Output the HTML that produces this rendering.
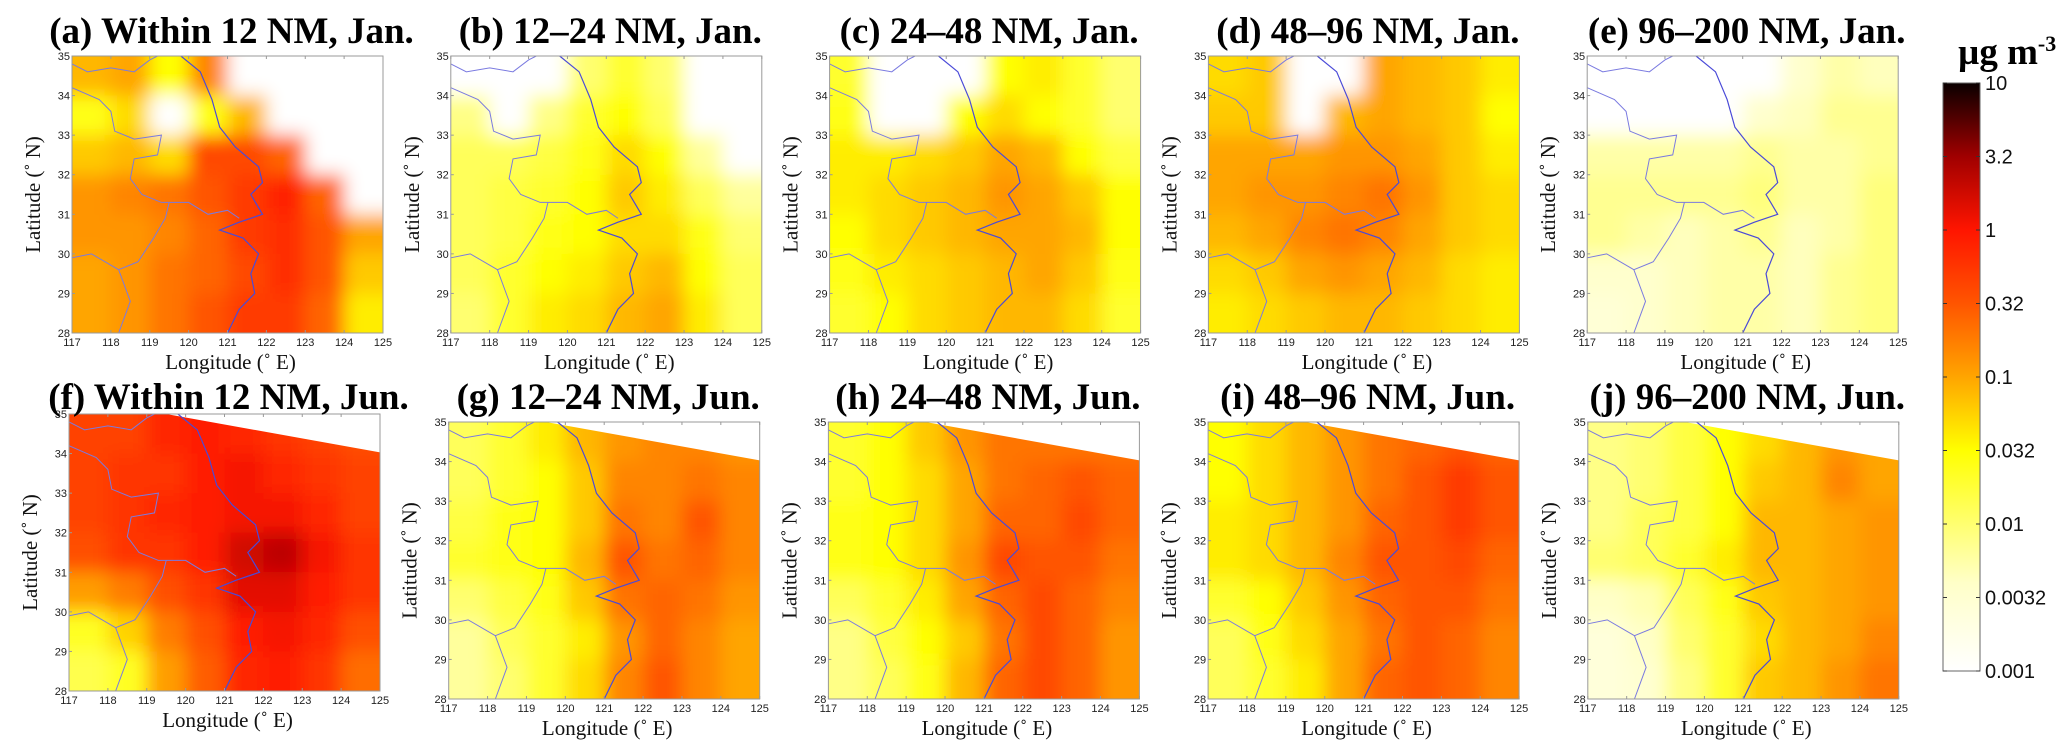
<!DOCTYPE html>
<html><head><meta charset="utf-8"><style>
html,body{margin:0;padding:0;background:#fff;}
svg{display:block;}
.tick{font-family:"Liberation Sans",sans-serif;font-size:11px;fill:#222;}
.axl{font-family:"Liberation Serif",serif;font-size:21px;fill:#111;}
.ttl{font-family:"Liberation Serif",serif;font-size:37px;font-weight:bold;fill:#000;}
.cbl{font-family:"Liberation Sans",sans-serif;font-size:20px;fill:#111;}
</style></head><body>
<svg id="fig" width="2067" height="756" viewBox="0 0 2067 756" xmlns="http://www.w3.org/2000/svg">
<defs>
<filter id="blur" x="-10%" y="-10%" width="120%" height="120%"><feGaussianBlur stdDeviation="9"/></filter>
<linearGradient id="cbgrad" x1="0" y1="1" x2="0" y2="0">
<stop offset="0" stop-color="#ffffff"/><stop offset="0.15" stop-color="#ffffc8"/><stop offset="0.25" stop-color="#ffff70"/>
<stop offset="0.375" stop-color="#ffff00"/><stop offset="0.5" stop-color="#ffa500"/><stop offset="0.625" stop-color="#ff5500"/>
<stop offset="0.75" stop-color="#ff1500"/><stop offset="0.875" stop-color="#a00000"/><stop offset="1" stop-color="#0a0000"/>
</linearGradient>
</defs>
</svg>
<script>
// Panel titles
const titles = ["(a) Within 12 NM, Jan.","(b) 12\u201324 NM, Jan.","(c) 24\u201348 NM, Jan.","(d) 48\u201396 NM, Jan.","(e) 96\u2013200 NM, Jan.",
"(f) Within 12 NM, Jun.","(g) 12\u201324 NM, Jun.","(h) 24\u201348 NM, Jun.","(i) 48\u201396 NM, Jun.","(j) 96\u2013200 NM, Jun."];
// Grid categories
const lonCenters = [117.5,118.5,119.5,120.5,121.5,122.5,123.5,124.5];
const latCenters = [34.5,33.5,32.5,31.5,30.5,29.5,28.5];
const lonTicks = [117,118,119,120,121,122,123,124,125];
const latTicks = [28,29,30,31,32,33,34,35];
const cbTicks = ["0.001","0.0032","0.01","0.032","0.1","0.32","1","3.2","10"];
// log10 concentration (µg m-3) per panel, rows north->south; null = no data
const logA = [[-1.1,-1.0,-1.5,-0.8,null,null,null,null],[-1.6,-1.3,null,-1.6,-1.1,null,null,null],[-1.2,-1.1,-1.3,-0.4,-0.4,-0.6,null,null],[-0.9,-0.8,-0.7,-0.5,-0.3,-0.1,-0.6,null],[-0.9,-0.9,-0.8,-0.6,-0.3,-0.2,-0.5,-1.0],[-1.0,-0.9,-0.7,-0.6,-0.4,-0.2,-0.5,-1.2],[-1.0,-0.9,-0.7,-0.5,-0.3,-0.3,-0.6,-1.4]];
const logB = [[null,null,null,-2.0,-1.7,-2.0,null,null],[-2.1,null,-2.1,-1.7,-1.5,-1.9,null,null],[-1.9,-1.9,-1.8,-1.6,-1.3,-1.5,-2.2,null],[-1.9,-1.8,-1.7,-1.5,-1.2,-1.4,-1.9,-2.2],[-1.9,-1.8,-1.6,-1.5,-1.3,-1.3,-1.6,-2.0],[-1.9,-1.7,-1.5,-1.4,-1.2,-1.1,-1.5,-1.9],[-2.0,-1.7,-1.4,-1.3,-1.1,-1.0,-1.4,-1.9]];
const logC = [[-1.7,null,null,null,-1.5,-1.4,-1.7,-2.0],[-1.6,null,null,-1.5,-1.3,-1.5,-1.7,-2.0],[-1.4,-1.4,-1.3,-1.2,-1.0,-1.1,-1.5,-1.8],[-1.4,-1.3,-1.2,-1.1,-0.9,-1.0,-1.2,-1.5],[-1.5,-1.3,-1.2,-1.1,-1.0,-1.0,-1.1,-1.5],[-1.6,-1.4,-1.3,-1.2,-1.1,-1.0,-1.2,-1.6],[-1.7,-1.5,-1.3,-1.2,-1.1,-1.1,-1.3,-1.7]];
const logD = [[-1.3,-1.2,null,null,-1.0,-1.1,-1.2,-1.4],[-1.2,-1.2,null,-1.1,-1.0,-1.1,-1.2,-1.5],[-1.0,-1.0,-1.0,-0.9,-0.9,-1.0,-1.2,-1.4],[-1.0,-0.9,-0.9,-0.8,-0.7,-0.9,-1.2,-1.3],[-1.1,-1.0,-0.8,-0.7,-0.8,-1.0,-1.2,-1.3],[-1.3,-1.2,-1.0,-0.9,-1.0,-1.1,-1.3,-1.4],[-1.4,-1.3,-1.2,-1.1,-1.1,-1.2,-1.3,-1.4]];
const logE = [[null,null,null,null,null,-2.45,-2.25,-2.35],[null,null,null,null,-2.45,-2.35,-2.15,-2.15],[-2.25,-2.25,-2.25,-2.25,-2.15,-2.25,-2.25,-2.15],[-2.15,-2.15,-2.15,-2.15,-2.05,-2.25,-2.25,-2.05],[-2.15,-2.25,-2.35,-2.25,-2.15,-2.35,-2.25,-2.05],[-2.45,-2.45,-2.35,-2.25,-2.25,-2.35,-2.15,-2.05],[-2.55,-2.45,-2.35,-2.25,-2.25,-2.35,-2.15,-2.05]];
const logF = [[-0.35,-0.35,-0.15,-0.05,-0.15,-0.25,-0.35,-0.45],[-0.35,-0.25,-0.25,-0.05,0.05,-0.15,-0.25,-0.35],[-0.35,-0.25,-0.15,-0.05,0.05,0.05,-0.15,-0.35],[-0.45,-0.25,-0.25,-0.05,0.25,0.35,0.05,-0.25],[-0.95,-0.75,-0.45,-0.25,0.15,0.15,-0.05,-0.25],[-1.65,-1.25,-0.75,-0.45,-0.05,0.05,-0.15,-0.45],[-1.85,-1.65,-0.95,-0.55,-0.15,-0.05,-0.25,-0.65]];
const logG = [[-1.9,-1.7,-1.4,-1.1,-0.9,-0.8,-0.8,-0.9],[-1.9,-1.7,-1.5,-1.2,-0.8,-0.8,-0.7,-0.8],[-1.8,-1.6,-1.5,-1.2,-0.7,-0.8,-0.5,-0.8],[-1.7,-1.6,-1.5,-1.1,-0.5,-0.7,-0.6,-0.8],[-2.0,-1.8,-1.6,-1.2,-0.7,-0.6,-0.7,-0.9],[-2.2,-1.9,-1.7,-1.4,-0.9,-0.6,-0.8,-1.0],[-2.2,-2.0,-1.7,-1.3,-0.8,-0.5,-0.8,-1.0]];
const logH = [[-1.7,-1.5,-1.2,-0.9,-0.7,-0.7,-0.7,-0.7],[-1.7,-1.5,-1.3,-1.0,-0.7,-0.6,-0.5,-0.6],[-1.6,-1.5,-1.3,-1.0,-0.6,-0.6,-0.4,-0.6],[-1.6,-1.5,-1.3,-0.9,-0.4,-0.5,-0.5,-0.7],[-1.9,-1.7,-1.4,-1.0,-0.6,-0.4,-0.6,-0.8],[-2.1,-1.8,-1.5,-1.2,-0.7,-0.4,-0.6,-0.9],[-2.1,-1.9,-1.6,-1.1,-0.6,-0.4,-0.6,-0.9]];
const logI = [[-1.5,-1.3,-1.1,-0.9,-0.7,-0.6,-0.5,-0.6],[-1.5,-1.3,-1.1,-0.9,-0.7,-0.5,-0.3,-0.5],[-1.4,-1.3,-1.1,-0.9,-0.6,-0.5,-0.3,-0.5],[-1.4,-1.3,-1.1,-0.8,-0.5,-0.5,-0.4,-0.6],[-1.7,-1.5,-1.2,-0.9,-0.6,-0.5,-0.5,-0.7],[-1.9,-1.6,-1.3,-1.0,-0.7,-0.5,-0.6,-0.8],[-1.9,-1.7,-1.4,-1.0,-0.6,-0.5,-0.6,-0.8]];
const logJ = [[-2.1,-2.0,-1.8,-1.5,-1.3,-1.1,-0.9,-1.0],[-2.1,-2.0,-1.8,-1.5,-1.2,-1.1,-0.8,-1.0],[-2.1,-1.9,-1.8,-1.5,-1.1,-1.1,-1.0,-0.9],[-2.0,-1.9,-1.7,-1.4,-1.1,-1.1,-1.0,-0.9],[-2.4,-2.3,-1.9,-1.6,-1.2,-1.1,-1.0,-0.9],[-2.6,-2.4,-2.0,-1.7,-1.3,-1.1,-1.0,-0.8],[-2.6,-2.5,-2.1,-1.7,-1.2,-1.1,-0.9,-0.7]];
const panelData = [logA,logB,logC,logD,logE,logF,logG,logH,logI,logJ];
// Jun model domain edge (lon, lat)
const domainEdge = [[119.5,35],[125,34.03],[125,35.2],[119.5,35.2]];
// Coastline and borders (lon, lat)
const coast = [[119.8,35],[120.3,34.6],[120.6,33.9],[120.8,33.2],[121.2,32.7],[121.8,32.2],[121.9,31.8],[121.6,31.5],[121.9,31.0],[121.3,30.8],[120.8,30.6],[121.4,30.4],[121.8,30.0],[121.6,29.5],[121.7,29.0],[121.3,28.6],[121.0,28.0]];
const borders = [
[[117,34.8],[117.4,34.6],[118.0,34.7],[118.6,34.6],[119.0,34.9],[119.2,35]],
[[117,34.2],[117.7,33.9],[118.0,33.6],[118.1,33.1],[118.6,32.9],[119.3,33.0],[119.2,32.5],[118.6,32.4],[118.5,31.9],[118.8,31.5],[119.3,31.3],[120.0,31.3],[120.5,31.0],[121.0,31.1],[121.3,30.9]],
[[117,29.9],[117.5,30.0],[118.2,29.6],[118.7,29.8],[119.1,30.4],[119.4,30.9],[119.5,31.3]],
[[118.2,29.6],[118.5,28.8],[118.2,28.0]]];

const NS = "http://www.w3.org/2000/svg";
const svg = document.getElementById("fig");
function mk(tag, attrs, parent){const e=document.createElementNS(NS,tag);for(const k in attrs)e.setAttribute(k,attrs[k]);(parent||svg).appendChild(e);return e;}
const stops=[[0,[255,255,255]],[0.15,[255,255,200]],[0.25,[255,255,112]],[0.375,[255,255,0]],[0.5,[255,165,0]],[0.625,[255,85,0]],[0.75,[255,21,0]],[0.875,[160,0,0]],[1,[10,0,0]]];
function color(lv){let t=(lv+3)/4;t=Math.max(0,Math.min(1,t));for(let i=1;i<stops.length;i++){if(t<=stops[i][0]){const a=stops[i-1],b=stops[i];const f=(t-a[0])/(b[0]-a[0]);const c=a[1].map((v,j)=>Math.round(v+(b[1][j]-v)*f));return `rgb(${c[0]},${c[1]},${c[2]})`;}}return "rgb(10,0,0)";}

const W=311,H=277;
for(let p=0;p<10;p++){
  const row=Math.floor(p/5),col=p%5;
  const x0=row===0?72+378.8*col:69+379.7*col;
  const y0=row===0?56:(col===0?414:422);
  const xs=lon=>x0+(lon-117)/8*W;
  const ys=lat=>y0+(35-lat)/7*H;
  const g=mk("g",{});
  
  
  const cp=mk("clipPath",{id:"cp"+p},g);
  mk("rect",{x:x0,y:y0,width:W,height:H},cp);
  const clipG=mk("g",{"clip-path":"url(#cp"+p+")"},g);
  const heat=mk("g",{filter:"url(#blur)"},clipG);
  
  
  const d=panelData[p];
  latCenters.forEach((lat,r)=>{lonCenters.forEach((lon,c)=>{
    const v=d[r][c];
    let l0=lon-0.5,l1=lon+0.5,a0=lat+0.5,a1=lat-0.5;
    if(c===0)l0-=1; if(c===lonCenters.length-1)l1+=1;
    if(r===0)a0+=1; if(r===latCenters.length-1)a1-=1;
    const cell=mk("rect",{x:xs(l0),y:ys(a0),width:xs(l1)-xs(l0)+0.5,height:ys(a1)-ys(a0)+0.5,fill:v===null?"#fff":color(v)},heat);
    
    
  });});
  if(row===1){
    const w=mk("polygon",{points:domainEdge.map(q=>xs(q[0])+","+ys(q[1])).join(" "),fill:"#fff"},clipG);
    
    
  }
  const cl=mk("polyline",{points:coast.map(q=>xs(q[0])+","+ys(q[1])).join(" "),fill:"none",stroke:"#4a4ad8","stroke-width":1.2},clipG);
  
  
  borders.forEach(b=>{const bl=mk("polyline",{points:b.map(q=>xs(q[0])+","+ys(q[1])).join(" "),fill:"none",stroke:"#7a7ae0","stroke-width":1},clipG);
    
    });
  const fr=mk("rect",{x:x0,y:y0,width:W,height:H,fill:"none",stroke:"#999","stroke-width":1},g);
  
  
  lonTicks.forEach(t=>{
    mk("line",{x1:xs(t),x2:xs(t),y1:y0+H,y2:y0+H-3,stroke:"#999"},g);
    mk("line",{x1:xs(t),x2:xs(t),y1:y0,y2:y0+3,stroke:"#999"},g);
    const tx=mk("text",{x:xs(t),y:y0+H+13,"text-anchor":"middle",class:"tick"},g);tx.textContent=t;
    
    
  });
  latTicks.forEach(t=>{
    mk("line",{x1:x0,x2:x0+3,y1:ys(t),y2:ys(t),stroke:"#999"},g);
    const tx=mk("text",{x:x0-2,y:ys(t)+4,"text-anchor":"end",class:"tick"},g);tx.textContent=t;
    
    
  });
  const xl=mk("text",{x:x0+W/2+3,y:y0+H+36,"text-anchor":"middle",class:"axl"},g);xl.textContent="Longitude (\u02da E)";
  
  
  const yx=x0-32,yy=y0+H/2;
  const yl=mk("text",{x:yx,y:yy,"text-anchor":"middle",class:"axl",transform:`rotate(-90 ${yx} ${yy})`},g);yl.textContent="Latitude (\u02da N)";
  
  
  const tl=mk("text",{x:x0+W/2+4,y:row===0?43:409,"text-anchor":"middle",class:"ttl"},g);tl.textContent=titles[p];
  
  
}
// Colorbar
const cbX=1943,cbY=83,cbW=37,cbH=588;
const cb=mk("rect",{x:cbX,y:cbY,width:cbW,height:cbH,fill:"url(#cbgrad)",stroke:"#666","stroke-width":1});


cbTicks.forEach((t,i)=>{
  const y=cbY+cbH-i*cbH/(cbTicks.length-1);
  mk("line",{x1:cbX+cbW-4,x2:cbX+cbW,y1:y,y2:y,stroke:"#333"});
  mk("line",{x1:cbX,x2:cbX+4,y1:y,y2:y,stroke:"#333"});
  const tx=mk("text",{x:cbX+cbW+5,y:y+7,class:"cbl"});tx.textContent=t;
  
  
});
const unit=mk("text",{x:1958,y:64,class:"ttl","font-size":"34"});


unit.innerHTML='\u00b5g m<tspan dy="-13" font-size="22">-3</tspan>';
</script>
</body></html>
